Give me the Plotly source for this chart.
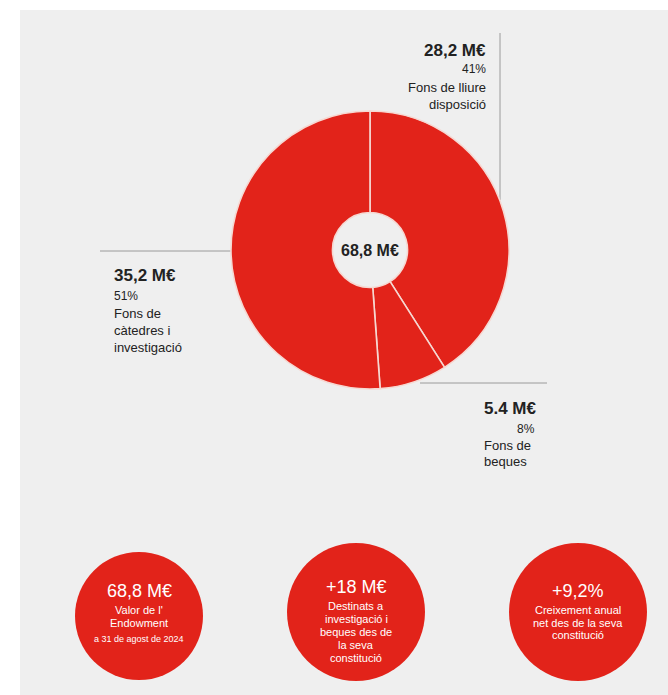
import plotly.graph_objects as go

# ---- data ----
slice_names = ["Fons de lliure disposició", "Fons de beques", "Fons de càtedres i investigació"]
slice_values = [28.2, 5.4, 35.2]
slice_value_labels = ["28,2 M€", "5.4 M€", "35,2 M€"]
slice_pct_labels = ["41%", "8%", "51%"]
total_label = "68,8 M€"

stat_values = ["68,8 M€", "+18 M€", "+9,2%"]
stat_texts = [
    ["Valor de l'", "Endowment"],
    ["Destinats a", "investigació i", "beques des de", "la seva", "constitució"],
    ["Creixement anual", "net des de la seva", "constitució"],
]
stat_notes = ["a 31 de agost de 2024", "", ""]

# ---- style ----
W, H = 668, 695
RED = "#e2231a"
BG = "#efefef"
DARK = "#222222"
FONT = "Liberation Sans, Arial, sans-serif"

cx, cy, R = 370, 250, 139

fig = go.Figure()
fig.add_trace(go.Pie(
    labels=slice_names, values=slice_values, sort=False, direction="clockwise",
    rotation=0, hole=0.27, textinfo="none", hoverinfo="label+value",
    marker=dict(colors=[RED] * 3, line=dict(color="#f6d8d2", width=1.6)),
    domain=dict(x=[(cx - R) / W, (cx + R) / W], y=[(H - cy - R) / H, (H - cy + R) / H]),
    showlegend=False,
))

shapes = []
# grey panel
shapes.append(dict(type="rect", xref="x", yref="y", x0=20, x1=W, y0=10, y1=H,
                   fillcolor=BG, line=dict(width=0), layer="below"))
# leader lines
lc = dict(color="#9a9a9a", width=1)
shapes.append(dict(type="line", xref="x", yref="y", x0=500, x1=500, y0=33, y1=200, line=lc, layer="below"))
shapes.append(dict(type="line", xref="x", yref="y", x0=100, x1=233, y0=251, y1=251, line=lc, layer="below"))
shapes.append(dict(type="line", xref="x", yref="y", x0=420, x1=547, y0=383, y1=383, line=lc, layer="below"))

# stat circles
circ = [(139, 616, 64), (356, 612, 69), (578, 612, 69)]
for (x, y, r) in circ:
    shapes.append(dict(type="circle", xref="x", yref="y", x0=x - r, x1=x + r, y0=y - r, y1=y + r,
                       fillcolor=RED, line=dict(width=0), layer="above"))

ann = []
def txt(x, y, s, size, color=DARK, xanchor="left", bold=False):
    ann.append(dict(x=x, y=y, xref="x", yref="y", text=(f"<b>{s}</b>" if bold else s),
                    showarrow=False, xanchor=xanchor, yanchor="middle",
                    font=dict(family=FONT, size=size, color=color)))

# center
txt(cx, cy, total_label, 16, xanchor="center", bold=True)

# top-right label (slice 0)
txt(488, 50, slice_value_labels[0], 17, xanchor="right", bold=True)
txt(488, 69, slice_pct_labels[0], 12, xanchor="right")
txt(488, 87, "Fons de lliure", 13, xanchor="right")
txt(488, 104, "disposició", 13, xanchor="right")

# left label (slice 2)
txt(112, 275, slice_value_labels[2], 17, bold=True)
txt(112, 296, slice_pct_labels[2], 12)
txt(112, 313, "Fons de", 13)
txt(112, 330, "càtedres i", 13)
txt(112, 347, "investigació", 13)

# bottom-right label (slice 1)
txt(482, 408, slice_value_labels[1], 17, bold=True)
txt(537, 429, slice_pct_labels[1], 12, xanchor="right")
txt(482, 445, "Fons de", 13)
txt(482, 461, "beques", 13)

# stat circle texts
W_ = "#ffffff"
c_first = [591, 587, 591]
line_gap = [13, 13, 12.5]
for i, (x, y, r) in enumerate(circ):
    txt(x, c_first[i], stat_values[i], 18, color=W_, xanchor="center")
    yy = c_first[i] + 19
    for line in stat_texts[i]:
        txt(x, yy, line, 11, color=W_, xanchor="center")
        yy += line_gap[i]
    if stat_notes[i]:
        txt(x, yy + 3, stat_notes[i], 9, color=W_, xanchor="center")

fig.update_layout(
    width=W, height=H, margin=dict(l=0, r=0, t=0, b=0),
    paper_bgcolor="#ffffff", plot_bgcolor="rgba(0,0,0,0)",
    xaxis=dict(range=[0, W], visible=False, fixedrange=True),
    yaxis=dict(range=[H, 0], visible=False, fixedrange=True),
    shapes=shapes, annotations=ann, showlegend=False,
)

fig.write_html("out.html", config={"displayModeBar": False},
               post_script="document.body.style.margin='0';document.body.style.overflow='hidden';")
